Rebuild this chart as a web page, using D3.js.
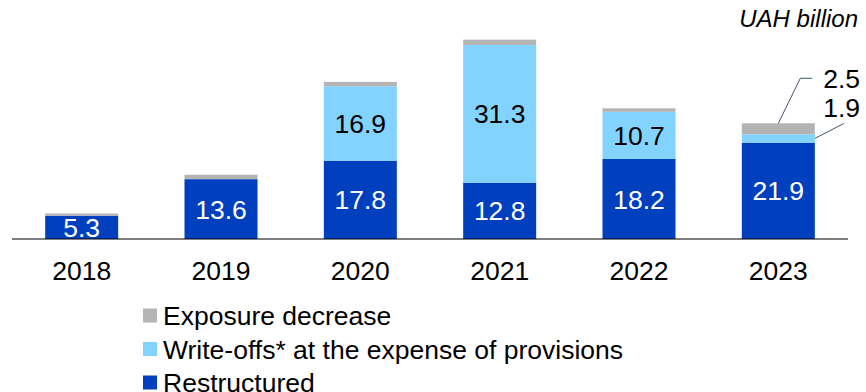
<!DOCTYPE html>
<html>
<head>
<meta charset="utf-8">
<script src="https://cdn.jsdelivr.net/npm/d3@7"></script>
<style>
  html, body { margin: 0; padding: 0; background: #fff; }
  svg { display: block; font-family: "Liberation Sans", Arial, sans-serif; }
</style>
</head>
<body>
<svg id="chart" width="866" height="392"></svg>
<script>
// Years on the category axis
const years = ["2018", "2019", "2020", "2021", "2022", "2023"];
// Restructured loans, UAH billion
const restructured = [5.3, 13.6, 17.8, 12.8, 18.2, 21.9];
// Write-offs at the expense of provisions, UAH billion
const writeOffs = [0, 0, 16.9, 31.3, 10.7, 1.9];
// Exposure decrease, UAH billion
const exposureDecrease = [0.5, 1.0, 1.0, 1.2, 0.8, 2.5];
// Which values get printed on the bars
const showRestructured = [true, true, true, true, true, true];
const showWriteOffs = [false, false, true, true, true, false];
const legendLabels = ["Exposure decrease", "Write-offs* at the expense of provisions", "Restructured"];
const unitLabel = "UAH billion";

const colors = { restructured: "#0040BF", writeOffs: "#82D3FF", exposure: "#B4B4B4" };
const FS = 26.5;

const svg = d3.select("#chart");

const x = d3.scaleBand().domain(years).range([12, 848]).paddingInner(0.476).paddingOuter(0.238);
const y = d3.scaleLinear().domain([0, 45]).range([239, 41]);

const rows = years.map((yr, i) => ({
  year: yr,
  segs: [
    { key: "restructured", v0: 0, v1: restructured[i], show: showRestructured[i], color: colors.restructured, text: "#fff" },
    { key: "writeOffs", v0: restructured[i], v1: restructured[i] + writeOffs[i], show: showWriteOffs[i], color: colors.writeOffs, text: "#000" },
    { key: "exposure", v0: restructured[i] + writeOffs[i], v1: restructured[i] + writeOffs[i] + exposureDecrease[i], show: false, color: colors.exposure, text: "#000" }
  ]
}));

const groups = svg.append("g").selectAll("g").data(rows).join("g");

groups.selectAll("rect")
  .data(d => d.segs.filter(s => s.v1 > s.v0).map(s => ({ ...s, year: d.year })))
  .join("rect")
  .attr("x", d => x(d.year))
  .attr("width", x.bandwidth())
  .attr("y", d => y(d.v1))
  .attr("height", d => y(d.v0) - y(d.v1))
  .attr("fill", d => d.color);

groups.selectAll("text")
  .data(d => d.segs.filter(s => s.show).map(s => ({ ...s, year: d.year })))
  .join("text")
  .attr("x", d => x(d.year) + x.bandwidth() / 2)
  .attr("y", d => (y(d.v0) + y(d.v1)) / 2)
  .attr("dy", "0.36em")
  .attr("text-anchor", "middle")
  .attr("font-size", FS)
  .attr("fill", d => d.text)
  .text(d => (d.v1 - d.v0).toFixed(1));

// Category axis
const axis = svg.append("g").attr("transform", `translate(0,${y(0)})`)
  .call(d3.axisBottom(x).tickSize(0).tickPadding(0));
axis.select(".domain").attr("stroke", "#000").attr("stroke-width", 1.2).attr("d", "M12,0H848");
axis.selectAll(".tick text")
  .attr("font-size", FS)
  .attr("font-family", "Liberation Sans, Arial, sans-serif")
  .attr("fill", "#000")
  .attr("dy", null)
  .attr("y", 41);

// Call-outs for the thin segments of the last bar
const last = years.length - 1;
const lx = x(years[last]);
const bw = x.bandwidth();
const topLast = restructured[last] + writeOffs[last] + exposureDecrease[last];
const midWO = restructured[last] + writeOffs[last] / 2;
const leader = "#44546A";

svg.append("path")
  .attr("d", `M${lx + bw / 2},${y(topLast)}L${lx + bw / 2 + 22},${y(topLast) - 45}H${lx + bw / 2 + 34}`)
  .attr("fill", "none").attr("stroke", leader).attr("stroke-width", 1);
svg.append("text")
  .attr("x", 860).attr("y", y(topLast) - 45).attr("dy", "0.36em")
  .attr("text-anchor", "end").attr("font-size", FS).text(exposureDecrease[last].toFixed(1));

svg.append("path")
  .attr("d", `M${lx + bw},${y(midWO)}L${lx + bw + 29},${y(midWO) - 15}`)
  .attr("fill", "none").attr("stroke", leader).attr("stroke-width", 1);
svg.append("text")
  .attr("x", 860).attr("y", y(topLast) - 16).attr("dy", "0.36em")
  .attr("text-anchor", "end").attr("font-size", FS).text(writeOffs[last].toFixed(1));

// Unit label
svg.append("text")
  .attr("x", 858).attr("y", 27)
  .attr("text-anchor", "end").attr("font-size", 24).attr("font-style", "italic")
  .text(unitLabel);

// Legend
const legendColors = [colors.exposure, colors.writeOffs, colors.restructured];
const legend = svg.append("g").selectAll("g").data(legendLabels).join("g")
  .attr("transform", (d, i) => `translate(143,${315.5 + i * 33.5})`);
legend.append("rect")
  .attr("x", 0).attr("y", -7).attr("width", 14).attr("height", 14)
  .attr("fill", (d, i) => legendColors[i]);
legend.append("text")
  .attr("x", 20).attr("y", 0).attr("dy", "0.36em")
  .attr("font-size", FS).attr("fill", "#000")
  .text(d => d);
</script>
</body>
</html>
